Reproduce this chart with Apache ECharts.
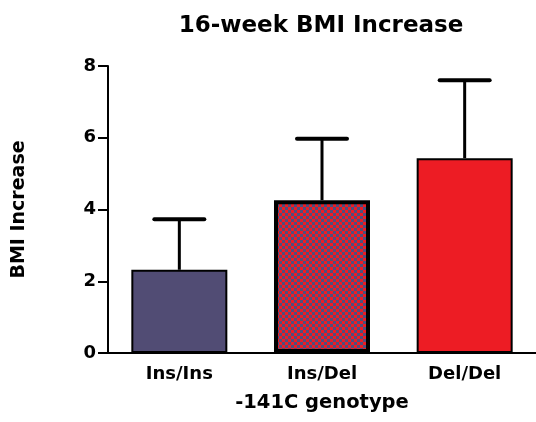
<!DOCTYPE html>
<html>
<head>
<meta charset="utf-8">
<script src="https://cdn.jsdelivr.net/npm/echarts@6/dist/echarts.min.js"></script>
<style>
html,body{margin:0;padding:0;background:#fff;}
#chart{width:536px;height:422px;}
</style>
</head>
<body>
<div id="chart"></div>
<script>
'use strict';
// values
var genotypes = ['Ins/Ins', 'Ins/Del', 'Del/Del'];
var bmiMean = [2.32, 4.26, 5.43];
var bmiErr = [1.41, 1.71, 2.17];
var yTicks = [0, 2, 4, 6, 8];

var FONT = 'DejaVu Sans, sans-serif';
var RED = '#ED1C24';
var NAVY = '#514C74';

// checkerboard fill for the middle bar
function checker() {
	var c = document.createElement('canvas');
	c.width = 6; c.height = 6;
	var ctx = c.getContext('2d');
	ctx.fillStyle = RED;
	ctx.fillRect(0, 0, 6, 6);
	ctx.fillStyle = '#4D4F7E';
	ctx.fillRect(0, 0, 3, 3);
	ctx.fillRect(3, 3, 3, 3);
	return c;
}

var fills = [NAVY, { image: checker(), repeat: 'repeat' }, RED];
var borders = [2, 4, 2];

var barData = [];
var errData = [];
for (var i = 0; i < genotypes.length; i++) {
	barData.push({
		value: bmiMean[i],
		itemStyle: { color: fills[i], borderColor: '#000', borderWidth: borders[i] }
	});
	errData.push([i, bmiMean[i], bmiMean[i] + bmiErr[i]]);
}

var chart = echarts.init(document.getElementById('chart'));
chart.setOption({
	animation: false,
	title: {
		text: '16-week BMI Increase',
		left: 316,
		top: 10,
		textAlign: 'center',
		textStyle: { fontFamily: FONT, fontWeight: 'bold', fontSize: 23, color: '#000' }
	},
	grid: { left: 108, right: 0, top: 66, bottom: 69 },
	xAxis: {
		type: 'category',
		data: genotypes,
		name: '-141C genotype',
		nameLocation: 'middle',
		nameGap: 40,
		nameTextStyle: { fontFamily: FONT, fontWeight: 'bold', fontSize: 19.5, color: '#000' },
		axisLine: { lineStyle: { color: '#000', width: 2 } },
		axisTick: { alignWithLabel: true, length: 6, lineStyle: { color: '#000', width: 2 } },
		axisLabel: { fontFamily: FONT, fontWeight: 'bold', fontSize: 18, color: '#000', margin: 12 }
	},
	yAxis: {
		type: 'value',
		min: yTicks[0],
		max: yTicks[yTicks.length - 1],
		interval: 2,
		name: 'BMI Increase',
		nameLocation: 'middle',
		nameGap: 79,
		nameTextStyle: { fontFamily: FONT, fontWeight: 'bold', fontSize: 19, color: '#000' },
		axisLine: { show: true, lineStyle: { color: '#000', width: 2 } },
		axisTick: { show: true, length: 10, lineStyle: { color: '#000', width: 2 } },
		axisLabel: { fontFamily: FONT, fontWeight: 'bold', fontSize: 18, color: '#000', margin: 12 },
		splitLine: { show: false }
	},
	series: [
		{
			type: 'bar',
			data: barData,
			barWidth: 96
		},
		{
			type: 'custom',
			z: 1,
			data: errData,
			renderItem: function (params, api) {
				var base = api.coord([api.value(0), api.value(1)]);
				var top = api.coord([api.value(0), api.value(2)]);
				return {
					type: 'group',
					children: [
						{ type: 'line', shape: { x1: top[0], y1: base[1], x2: top[0], y2: top[1] }, style: { stroke: '#000', lineWidth: 3 } },
						{ type: 'line', shape: { x1: top[0] - 25, y1: top[1], x2: top[0] + 25, y2: top[1] }, style: { stroke: '#000', lineWidth: 4, lineCap: 'round' } }
					]
				};
			}
		}
	]
});
</script>
</body>
</html>
